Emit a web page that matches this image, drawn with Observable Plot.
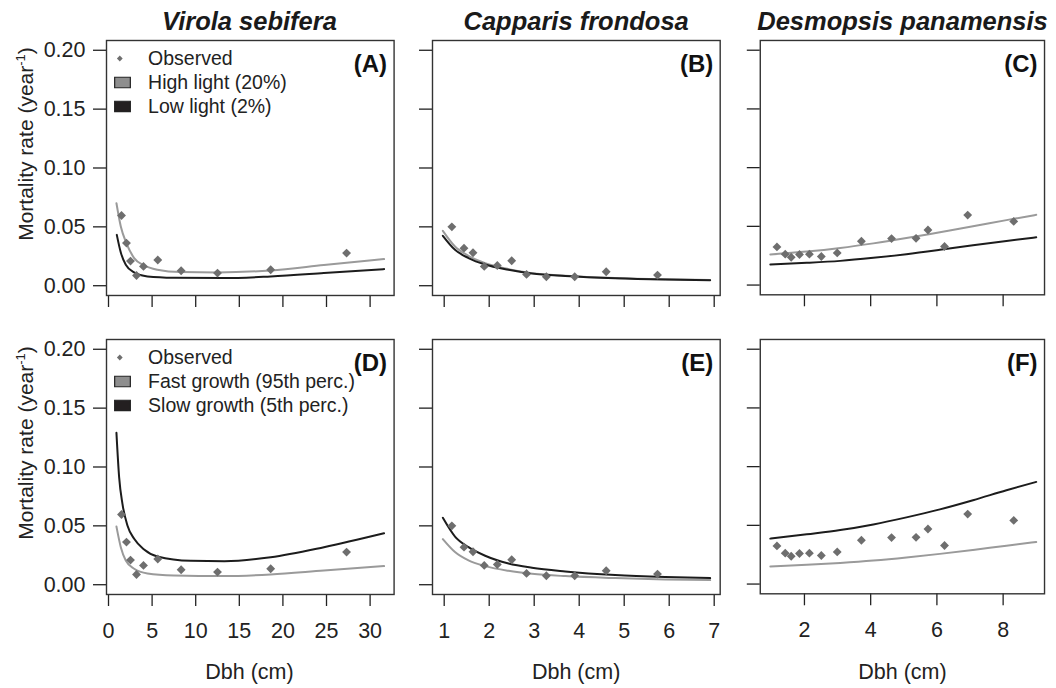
<!DOCTYPE html>
<html>
<head>
<meta charset="utf-8">
<script src="https://cdn.jsdelivr.net/npm/d3@7"></script>
<script src="https://cdn.jsdelivr.net/npm/@observablehq/plot@0.6"></script>
<style>
  html, body { margin: 0; padding: 0; background: #fff; }
  #wrap { position: relative; width: 1056px; height: 688px; background: #fff; overflow: hidden;
          font-family: 'Liberation Sans', Arial, Helvetica, sans-serif; color: #222; }
  .cell { position: absolute; }
  .title { position: absolute; transform: translate(-50%, -50%); font-weight: bold; font-style: italic;
           font-size: 25.5px; white-space: nowrap; color: #1a1a1a; }
  .xlab { position: absolute; transform: translate(-50%, -50%); font-size: 21.5px; white-space: nowrap; color: #222; }
  .ylab { position: absolute; transform: translate(-50%, -50%) rotate(-90deg); font-size: 21px; white-space: nowrap; color: #222; }
  .ylab sup { font-size: 13px; }
</style>
</head>
<body>
<div id="wrap"></div>
<script>
// ---------------- DATA ----------------
const speciesNames = ["Virola sebifera", "Capparis frondosa", "Desmopsis panamensis"];
const panelLetters = ["(A)", "(B)", "(C)", "(D)", "(E)", "(F)"];
const lightLegend = ["Observed", "High light (20%)", "Low light (2%)"];
const growthLegend = ["Observed", "Fast growth (95th perc.)", "Slow growth (5th perc.)"];
const yTicks = [0, 0.05, 0.10, 0.15, 0.20];
const virolaTicks = [0, 5, 10, 15, 20, 25, 30];
const capparisTicks = [1, 2, 3, 4, 5, 6, 7];
const desmopsisTicks = [2, 4, 6, 8];

// Observed mortality
const virolaDbh = [1.49, 2.06, 2.52, 3.21, 4.01, 5.65, 8.33, 12.5, 18.6, 27.3];
const virolaRate = [0.0596, 0.0362, 0.0209, 0.0087, 0.0164, 0.0218, 0.0127, 0.0107, 0.0136, 0.0277];
const capparisDbh = [1.17, 1.44, 1.64, 1.89, 2.18, 2.50, 2.83, 3.27, 3.90, 4.60, 5.74];
const capparisRate = [0.0500, 0.0319, 0.0280, 0.0164, 0.0172, 0.0212, 0.0096, 0.0076, 0.0076, 0.0119, 0.0090];
const desmopsisDbh = [1.17, 1.42, 1.60, 1.85, 2.15, 2.51, 2.99, 3.72, 4.63, 5.37, 5.73, 6.23, 6.93, 8.32];
const desmopsisRate = [0.0325, 0.0263, 0.0237, 0.0260, 0.0263, 0.0243, 0.0274, 0.0373, 0.0396, 0.0398, 0.0469, 0.0328, 0.0596, 0.0542];

// Light models (top row)
const virolaHighDbh = [0.91, 1.41, 2.06, 2.94, 4.08, 5.6, 8.3, 12.5, 18.6, 24.7, 31.6];
const virolaHighRate = [0.0701, 0.0503, 0.0360, 0.0235, 0.0172, 0.0136, 0.0116, 0.0113, 0.0130, 0.0175, 0.0226];
const virolaLowDbh = [0.95, 1.41, 1.98, 2.94, 4.47, 7.5, 13.3, 18.6, 24.7, 31.6];
const virolaLowRate = [0.0432, 0.0282, 0.0178, 0.0113, 0.0079, 0.0068, 0.0065, 0.0079, 0.0107, 0.0141];
const capparisCurveDbh = [0.97, 1.24, 1.54, 1.91, 2.43, 2.95, 3.69, 4.8, 5.91, 6.91];
const capparisHighRate = [0.0466, 0.0333, 0.0254, 0.0192, 0.0141, 0.0107, 0.0085, 0.0065, 0.0054, 0.0048];
const capparisLowRate = [0.0424, 0.0305, 0.0235, 0.0180, 0.0136, 0.0104, 0.0083, 0.0063, 0.0052, 0.0047];
const desmopsisCurveDbh = [0.97, 2.07, 3.08, 4.08, 5.08, 6.09, 7.09, 8.1, 9.0];
const desmopsisHighRate = [0.0260, 0.0285, 0.0316, 0.0355, 0.0400, 0.0450, 0.0500, 0.0553, 0.0598];
const desmopsisLowRate = [0.0175, 0.0189, 0.0206, 0.0232, 0.0263, 0.0300, 0.0339, 0.0376, 0.0407];

// Growth models (bottom row)
const virolaSlowDbh = [0.91, 1.22, 1.60, 2.17, 2.94, 4.08, 5.6, 9.44, 13.3, 18.6, 24.7, 31.6];
const virolaSlowRate = [0.1290, 0.0912, 0.0686, 0.0503, 0.0390, 0.0299, 0.0240, 0.0203, 0.0200, 0.0234, 0.0319, 0.0437];
const virolaFastDbh = [0.91, 1.41, 1.98, 2.94, 4.47, 7.5, 13.3, 18.6, 24.7, 31.6];
const virolaFastRate = [0.0494, 0.0319, 0.0206, 0.0136, 0.0096, 0.0079, 0.0073, 0.0087, 0.0121, 0.0158];
const capparisSlowRate = [0.0568, 0.0409, 0.0319, 0.0246, 0.0180, 0.0144, 0.0113, 0.0082, 0.0065, 0.0056];
const capparisFastRate = [0.0387, 0.0277, 0.0206, 0.0158, 0.0118, 0.0093, 0.0073, 0.0056, 0.0045, 0.0039];
const desmopsisSlowRate = [0.0387, 0.0424, 0.0460, 0.0508, 0.0568, 0.0636, 0.0714, 0.0799, 0.0870];
const desmopsisFastRate = [0.0149, 0.0164, 0.0180, 0.0200, 0.0226, 0.0257, 0.0291, 0.0327, 0.0358];

// ---------------- STYLE / LAYOUT ----------------
const FONT = "'Liberation Sans', Arial, Helvetica, sans-serif";
const GRAY_LINE = "#9a9a9a", BLACK_LINE = "#1c1c1c", POINT = "#6e6e6e";
const ML = 90, MT = 12, MR = 12, MB = 52;
const colFrames = [
  {left: 105.7, width: 287.6, domain: [-0.23, 32.75], ticks: virolaTicks},
  {left: 432.3, width: 287.7, domain: [0.74, 7.133], ticks: capparisTicks},
  {left: 760, width: 285, domain: [0.666, 9.25], ticks: desmopsisTicks}
];
const rowFrames = [{top: 40, height: 255}, {top: 339.3, height: 255}];

const pts = (xs, ys) => xs.map((x, i) => ({dbh: x, rate: ys[i]}));

const rectSymbol = {
  draw(ctx, size) {
    const s = Math.sqrt(size);
    ctx.rect(-s * 0.75, -s * 0.5, s * 1.5, s);
  }
};

function legendMarks(labels) {
  const marks = [
    Plot.dot([0], {frameAnchor: "top-left", dx: 13.3, dy: 18, symbol: "diamond2", r: 2.6, fill: POINT}),
    Plot.dot([0], {frameAnchor: "top-left", dx: 16, dy: 42, symbol: rectSymbol, r: 5.9, fill: "#8e8e8e", stroke: "#222", strokeWidth: 1.2}),
    Plot.dot([0], {frameAnchor: "top-left", dx: 16, dy: 66, symbol: rectSymbol, r: 5.9, fill: "#231f20", stroke: "#222", strokeWidth: 1.2})
  ];
  labels.forEach((lab, i) => marks.push(Plot.text([lab], {frameAnchor: "top-left", dx: 41.6, dy: 18.3 + 24 * i, text: d => d,
    fontSize: 19.5, textAnchor: "start", lineAnchor: "middle", fill: "#222"})));
  return marks;
}

function makePanel(row, col, obs, grayCurve, blackCurve, letter, legendLabels) {
  const cf = colFrames[col], rf = rowFrames[row];
  const width = cf.width + ML + MR;
  const height = rf.height + MT + MB;
  const marks = [
    Plot.axisY({ticks: yTicks, tickSize: 13, tickPadding: 8, label: null,
      tickFormat: col === 0 ? d3.format(".2f") : () => "", fontSize: 21.5, strokeWidth: 1.3}),
    Plot.axisX({ticks: cf.ticks, tickSize: 12, tickPadding: 16, label: null,
      tickFormat: row === 1 ? (d => String(d)) : () => "", fontSize: 21.5, strokeWidth: 1.3}),
    Plot.line(grayCurve, {x: "dbh", y: "rate", stroke: GRAY_LINE, strokeWidth: 2, curve: "monotone-x"}),
    Plot.line(blackCurve, {x: "dbh", y: "rate", stroke: BLACK_LINE, strokeWidth: 2, curve: "monotone-x"}),
    Plot.dot(obs, {x: "dbh", y: "rate", symbol: "diamond2", r: 4, fill: POINT}),
    Plot.text([letter], {frameAnchor: "top-right", dx: -7, dy: 24, text: d => d, fontSize: 24, fontWeight: "bold",
      textAnchor: "end", lineAnchor: "middle", fill: "#111"}),
    Plot.frame({stroke: "#333", strokeWidth: 1.4})
  ];
  if (legendLabels) marks.push(...legendMarks(legendLabels));
  const svg = Plot.plot({
    width, height,
    marginLeft: ML, marginRight: MR, marginTop: MT, marginBottom: MB,
    x: {domain: cf.domain},
    y: {domain: [-0.0083, 0.2083]},
    style: {background: "transparent", fontFamily: FONT, fontSize: "21px", color: "#222", overflow: "visible"},
    marks
  });
  const div = document.createElement("div");
  div.className = "cell";
  div.style.left = (cf.left - ML) + "px";
  div.style.top = (rf.top - MT) + "px";
  div.appendChild(svg);
  return div;
}

const wrap = document.getElementById("wrap");
const obsSets = [pts(virolaDbh, virolaRate), pts(capparisDbh, capparisRate), pts(desmopsisDbh, desmopsisRate)];
const topGray = [pts(virolaHighDbh, virolaHighRate), pts(capparisCurveDbh, capparisHighRate), pts(desmopsisCurveDbh, desmopsisHighRate)];
const topBlack = [pts(virolaLowDbh, virolaLowRate), pts(capparisCurveDbh, capparisLowRate), pts(desmopsisCurveDbh, desmopsisLowRate)];
const botGray = [pts(virolaFastDbh, virolaFastRate), pts(capparisCurveDbh, capparisFastRate), pts(desmopsisCurveDbh, desmopsisFastRate)];
const botBlack = [pts(virolaSlowDbh, virolaSlowRate), pts(capparisCurveDbh, capparisSlowRate), pts(desmopsisCurveDbh, desmopsisSlowRate)];

for (let c = 0; c < 3; c++) {
  wrap.appendChild(makePanel(0, c, obsSets[c], topGray[c], topBlack[c], panelLetters[c], c === 0 ? lightLegend : null));
  wrap.appendChild(makePanel(1, c, obsSets[c], botGray[c], botBlack[c], panelLetters[c + 3], c === 0 ? growthLegend : null));
}

// titles and axis labels
speciesNames.forEach((name, c) => {
  const t = document.createElement("div");
  t.className = "title";
  t.textContent = name;
  t.style.left = (colFrames[c].left + colFrames[c].width / 2) + "px";
  t.style.top = "21px";
  wrap.appendChild(t);
  const xl = document.createElement("div");
  xl.className = "xlab";
  xl.textContent = "Dbh (cm)";
  xl.style.left = (colFrames[c].left + colFrames[c].width / 2) + "px";
  xl.style.top = "672px";
  wrap.appendChild(xl);
});
[144, 443].forEach(cy => {
  const yl = document.createElement("div");
  yl.className = "ylab";
  yl.innerHTML = "Mortality rate (year<sup>-1</sup>)";
  yl.style.left = "25px";
  yl.style.top = cy + "px";
  wrap.appendChild(yl);
});
</script>
</body>
</html>
